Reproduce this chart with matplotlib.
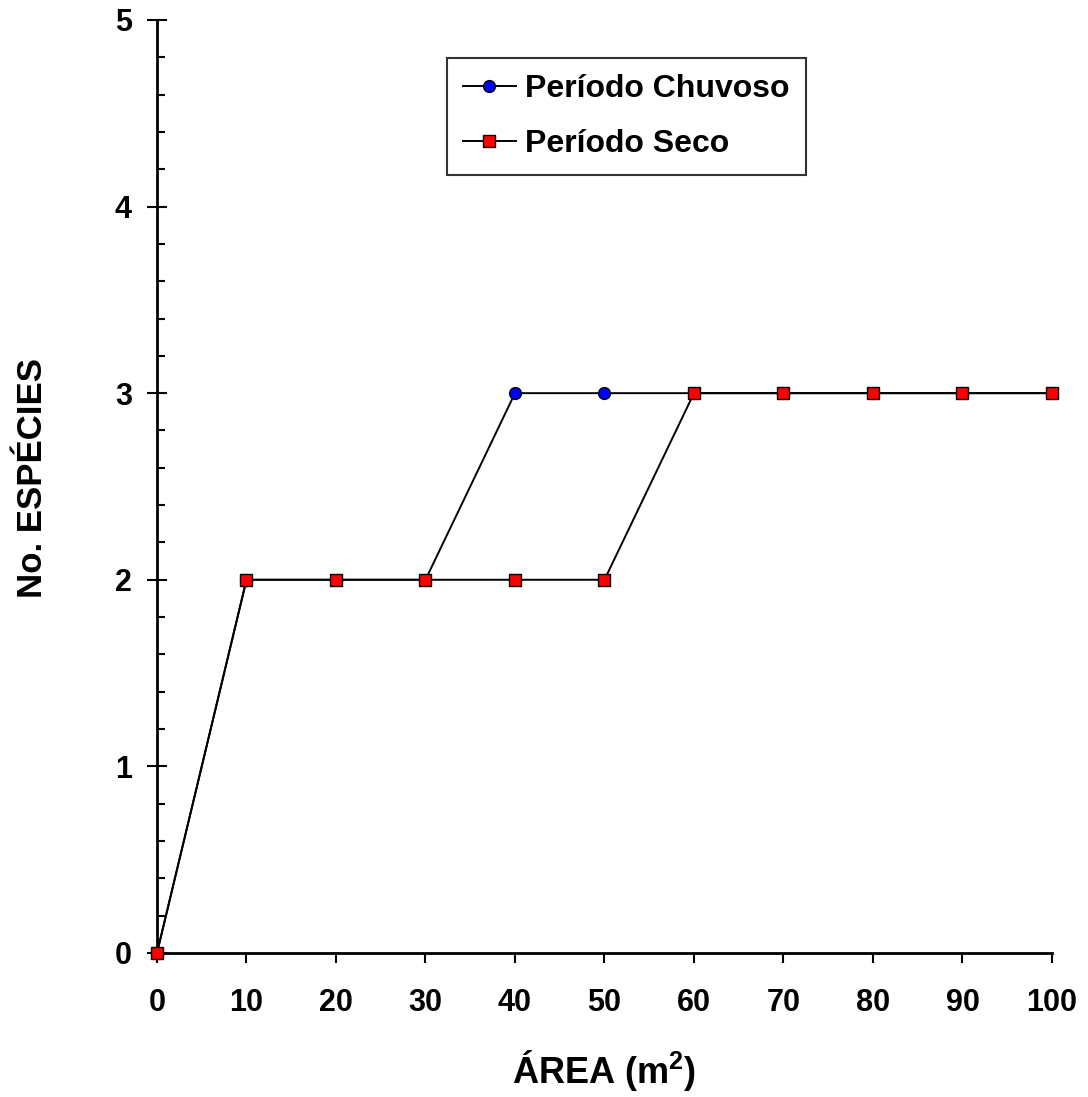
import matplotlib
matplotlib.use("Agg")
import matplotlib.pyplot as plt
import matplotlib.ticker as mtick

plt.rcParams['font.family'] = ['Liberation Sans', 'DejaVu Sans']
plt.rcParams['font.weight'] = 'bold'
plt.rcParams['mathtext.fontset'] = 'custom'
plt.rcParams['mathtext.rm'] = 'Liberation Sans:bold'
plt.rcParams['mathtext.it'] = 'Liberation Sans:bold'
plt.rcParams['mathtext.bf'] = 'Liberation Sans:bold'

# data
area = [0, 10, 20, 30, 40, 50, 60, 70, 80, 90, 100]
chuvoso = [0, 2, 2, 2, 3, 3, 3, 3, 3, 3, 3]
seco = [0, 2, 2, 2, 2, 2, 3, 3, 3, 3, 3]

fig = plt.figure(figsize=(10.88, 10.97), dpi=100)
ax = fig.add_axes([0.1443, 0.1313, 0.8226, 0.8505])

ax.plot(area, chuvoso, color='black', lw=1.4, marker='o', ms=8.5,
        mfc='blue', mec='black', mew=1.0, label='Período Chuvoso', clip_on=False, zorder=3)
ax.plot(area, seco, color='black', lw=1.4, marker='s', ms=8,
        mfc='red', mec='black', mew=1.0, label='Período Seco', clip_on=False, zorder=4)

ax.set_xlim(0, 100)
ax.set_ylim(0, 5)
ax.set_xticks(area)
ax.set_yticks(range(6))
ax.yaxis.set_minor_locator(mtick.MultipleLocator(0.2))

for s in ['top', 'right']:
    ax.spines[s].set_visible(False)
for s in ['left', 'bottom']:
    ax.spines[s].set_linewidth(2)

ax.tick_params(axis='x', which='major', direction='out', length=7, width=1.5,
               labelsize=22, pad=18)
ax.tick_params(axis='y', which='major', direction='inout', length=14, width=1.5,
               labelsize=22, pad=11)
ax.tick_params(axis='y', which='minor', direction='in', length=6, width=1.5)

ax.set_xlabel('ÁREA (m$^2$)', fontsize=26, fontweight='bold', labelpad=22)
ax.set_ylabel('No. ESPÉCIES', fontsize=25, fontweight='bold')
ax.yaxis.set_label_coords(-0.121, 0.509)

leg = ax.legend(loc='upper left', bbox_to_anchor=(0.324, 0.959), fontsize=23,
                frameon=True, fancybox=False, edgecolor='black', handlelength=1.65,
                borderpad=0.5, labelspacing=0.78, handletextpad=0.3, borderaxespad=0)
leg.get_frame().set_linewidth(1.5)

plt.savefig('out.png', dpi=100)
